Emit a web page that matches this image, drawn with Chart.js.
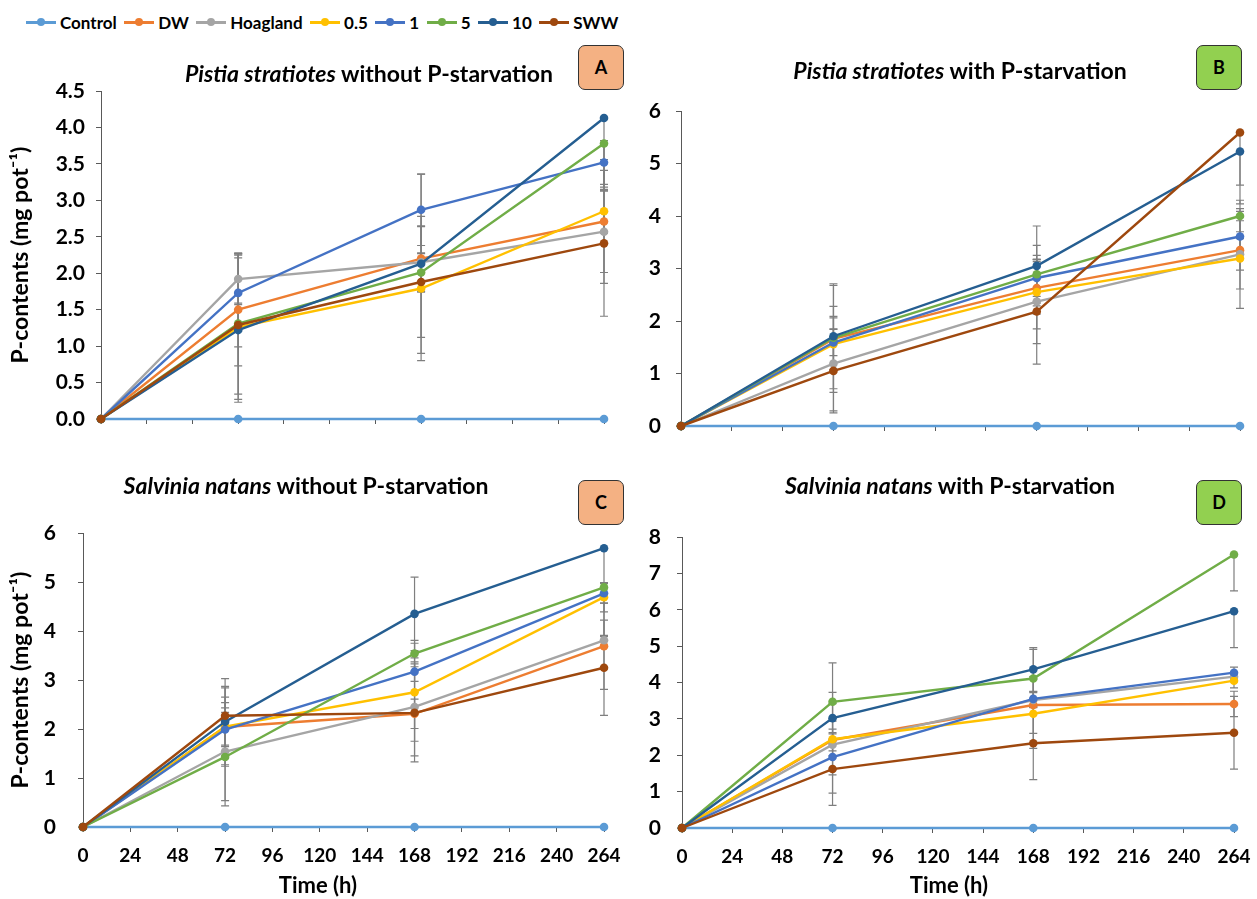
<!DOCTYPE html>
<html>
<head>
<meta charset="utf-8">
<script src="https://cdn.jsdelivr.net/npm/chart.js@4.4.1/dist/chart.umd.min.js"></script>
<style>
  body { margin: 0; background: #fff; font-family: Lato, "Open Sans", sans-serif; }
  #wrap { position: relative; width: 1257px; height: 899px; overflow: hidden; }
  canvas { position: absolute; }
  .ttl { position: absolute; font-weight: bold; font-size: 23px; color: #000; white-space: nowrap; transform: translateX(-50%); }
  .xt { position: absolute; font-weight: bold; font-size: 22px; color: #000; white-space: nowrap; transform: translateX(-50%); }
  .box { position: absolute; width: 44px; height: 43px; border: 1.5px solid #333; border-radius: 7px;
         font-weight: bold; font-size: 18px; text-align: center; line-height: 42px; color: #000; }
  #legend { position: absolute; left: 26px; top: 12px; display: flex; align-items: center;
            font-weight: bold; font-size: 17px; color: #000; }
  .item { display: flex; align-items: center; margin-right: 7.5px; }
  .sw { position: relative; width: 30px; height: 2.5px; margin-right: 4px; }
  .sw i { position: absolute; left: 11px; top: -3px; width: 8px; height: 8px; border-radius: 50%; }
</style>
</head>
<body>
<div id="wrap">
  <div id="legend"></div>

  <canvas id="chartA" width="640" height="411" style="left:0;top:40px"></canvas>
  <canvas id="chartB" width="617" height="418" style="left:640px;top:40px"></canvas>
  <canvas id="chartC" width="640" height="449" style="left:0;top:450px"></canvas>
  <canvas id="chartD" width="640" height="449" style="left:640px;top:450px"></canvas>

  <div class="ttl" style="left:369px;top:59px"><i>Pistia stratiotes</i> without P-starvation</div>
  <div class="ttl" style="left:960px;top:56px"><i>Pistia stratiotes</i> with P-starvation</div>
  <div class="ttl" style="left:306px;top:471px"><i>Salvinia natans</i> without P-starvation</div>
  <div class="ttl" style="left:950px;top:471px"><i>Salvinia natans</i> with P-starvation</div>

  <div class="xt" style="left:318px;top:871px">Time (h)</div>
  <div class="xt" style="left:949px;top:871px">Time (h)</div>

  <div class="box" style="left:578px;top:45px;background:#F4B183">A</div>
  <div class="box" style="left:1196px;top:45px;background:#92D050">B</div>
  <div class="box" style="left:578px;top:480px;background:#F4B183">C</div>
  <div class="box" style="left:1196px;top:480px;background:#92D050">D</div>
</div>

<script>
// sampling times (h)
const times = [0, 72, 168, 264];
const series = ['Control', 'DW', 'Hoagland', '0.5', '1', '5', '10', 'SWW'];
const colors = ['#5B9BD5', '#ED7D31', '#A5A5A5', '#FFC000', '#4472C4', '#70AD47', '#255E91', '#9E480E'];

// A - Pistia stratiotes without P-starvation
const valuesA = [
  [0, 0, 0, 0],
  [0, 1.50, 2.20, 2.71],
  [0, 1.92, 2.15, 2.57],
  [0, 1.26, 1.79, 2.85],
  [0, 1.73, 2.87, 3.52],
  [0, 1.31, 2.01, 3.78],
  [0, 1.22, 2.13, 4.13],
  [0, 1.29, 1.88, 2.41]
];
const errUpA = [
  [0, 0, 0, 0],
  [0, 0.77, 0.45, 0.85],
  [0, 0.35, 0.12, 0.56],
  [0, 0.99, 0.99, 0.30],
  [0, 0.52, 0.49, 0.30],
  [0, 0.97, 0.27, 0],
  [0, 0.99, 1.23, 0],
  [0, 0.30, 0.76, 1.00]
];
const errDownA = [
  [0, 0, 0, 0],
  [0, 0.77, 0.45, 0.85],
  [0, 0.35, 0.12, 0.56],
  [0, 0.99, 0.99, 0.30],
  [0, 0.52, 0.49, 0.30],
  [0, 0.97, 0.27, 0.60],
  [0, 0.99, 1.23, 1.00],
  [0, 0.30, 0.76, 1.00]
];

// B - Pistia stratiotes with P-starvation
const valuesB = [
  [0, 0, 0, 0],
  [0, 1.66, 2.63, 3.35],
  [0, 1.19, 2.37, 3.27],
  [0, 1.56, 2.55, 3.19],
  [0, 1.59, 2.82, 3.61],
  [0, 1.68, 2.89, 4.00],
  [0, 1.71, 3.05, 5.23],
  [0, 1.05, 2.18, 5.59]
];
const errUpB = [
  [0, 0, 0, 0],
  [0, 1.02, 0.50, 0.74],
  [0, 0.90, 0.80, 0.30],
  [0, 0.50, 0.70, 0.95],
  [0, 0.25, 0.35, 0.30],
  [0, 0.60, 0.55, 0.30],
  [0, 1.00, 0.76, 0],
  [0, 0.80, 1.00, 0]
];
const errDownB = [
  [0, 0, 0, 0],
  [0, 1.02, 0.50, 0.74],
  [0, 0.90, 0.80, 0.30],
  [0, 0.50, 0.70, 0.95],
  [0, 0.25, 0.35, 0.30],
  [0, 0.60, 0.55, 0.30],
  [0, 1.00, 0.76, 1.00],
  [0, 0.80, 1.00, 1.00]
];

// C - Salvinia natans without P-starvation
const valuesC = [
  [0, 0, 0, 0],
  [0, 2.04, 2.31, 3.69],
  [0, 1.54, 2.45, 3.81],
  [0, 2.05, 2.75, 4.69],
  [0, 1.99, 3.17, 4.77],
  [0, 1.43, 3.54, 4.89],
  [0, 2.15, 4.35, 5.69],
  [0, 2.27, 2.33, 3.25]
];
const errUpC = [
  [0, 0, 0, 0],
  [0, 0.80, 0.30, 0.88],
  [0, 1.00, 1.00, 0.10],
  [0, 0.60, 1.00, 0.30],
  [0, 0.35, 0.20, 0.20],
  [0, 1.00, 0.27, 0],
  [0, 0.88, 0.75, 0],
  [0, 0.60, 1.00, 0.97]
];
const errDownC = [
  [0, 0, 0, 0],
  [0, 0.80, 0.30, 0.88],
  [0, 1.00, 1.00, 0.10],
  [0, 0.60, 1.00, 0.30],
  [0, 0.35, 0.20, 0.20],
  [0, 1.00, 0.27, 1.00],
  [0, 0.88, 0.75, 1.00],
  [0, 0.60, 1.00, 0.97]
];

// D - Salvinia natans with P-starvation
const valuesD = [
  [0, 0, 0, 0],
  [0, 2.42, 3.38, 3.41],
  [0, 2.29, 3.52, 4.16],
  [0, 2.44, 3.14, 4.05],
  [0, 1.95, 3.55, 4.27],
  [0, 3.47, 4.11, 7.52],
  [0, 3.02, 4.36, 5.96],
  [0, 1.62, 2.33, 2.62]
];
const errUpD = [
  [0, 0, 0, 0],
  [0, 0.30, 0.78, 0.35],
  [0, 0.30, 0.20, 0.10],
  [0, 0.98, 0.95, 0.20],
  [0, 0.99, 0.20, 0.15],
  [0, 1.07, 0.80, 0],
  [0, 0.71, 0.60, 0],
  [0, 1.00, 1.00, 1.00]
];
const errDownD = [
  [0, 0, 0, 0],
  [0, 0.30, 0.78, 0.35],
  [0, 0.30, 0.20, 0.10],
  [0, 0.98, 0.95, 0.20],
  [0, 0.99, 0.20, 0.15],
  [0, 1.07, 0.80, 1.00],
  [0, 0.71, 0.60, 1.00],
  [0, 1.00, 1.00, 1.00]
];

// legend (shared by all four panels)
const legendEl = document.getElementById('legend');
series.forEach((name, i) => {
  const item = document.createElement('div');
  item.className = 'item';
  item.innerHTML = '<span class="sw" style="background:' + colors[i] + '"><i style="background:' + colors[i] + '"></i></span>' + name;
  legendEl.appendChild(item);
});

// vertical error bars with caps, drawn under the lines
const errorBars = {
  id: 'errorBars',
  beforeDatasetsDraw(chart) {
    const { ctx, chartArea, scales: { x, y } } = chart;
    ctx.save();
    ctx.beginPath();
    ctx.rect(chartArea.left - 10, chartArea.top, chartArea.right - chartArea.left + 20, chartArea.bottom - chartArea.top);
    ctx.clip();
    ctx.strokeStyle = '#7f7f7f';
    ctx.lineWidth = 1.2;
    chart.data.datasets.forEach(ds => {
      ds.data.forEach((p, i) => {
        const up = ds.errUp[i], down = ds.errDown[i];
        if (!up && !down) return;
        const px = x.getPixelForValue(p.x);
        const top = y.getPixelForValue(p.y + up);
        const bot = y.getPixelForValue(p.y - down);
        ctx.beginPath();
        ctx.moveTo(px, top); ctx.lineTo(px, bot);
        if (up) { ctx.moveTo(px - 4, top); ctx.lineTo(px + 4, top); }
        if (down) { ctx.moveTo(px - 4, bot); ctx.lineTo(px + 4, bot); }
        ctx.stroke();
      });
    });
    ctx.restore();
  }
};

const axisColor = '#595959';
const font = 'Lato, "Open Sans", sans-serif';

function makePanel(id, values, errUp, errDown, cfg) {
  const datasets = series.map((name, i) => ({
    label: name,
    data: times.map((t, j) => ({ x: t, y: values[i][j] })),
    errUp: errUp[i],
    errDown: errDown[i],
    borderColor: colors[i],
    backgroundColor: colors[i],
    borderWidth: 2.4,
    pointRadius: 4.3,
    pointHoverRadius: 4.3,
    pointBorderWidth: 0,
    tension: 0,
    clip: false,
    order: series.length - i
  }));

  new Chart(document.getElementById(id), {
    type: 'line',
    data: { datasets },
    plugins: [errorBars],
    options: {
      responsive: false,
      animation: false,
      devicePixelRatio: 1,
      layout: { padding: cfg.padding },
      plugins: { legend: { display: false }, tooltip: { enabled: false } },
      scales: {
        x: {
          type: 'linear', min: 0, max: 264,
          afterFit: s => { s.height = cfg.xHeight; },
          ticks: {
            display: cfg.showX, stepSize: 24, padding: 12, color: '#000',
            font: { family: font, size: 19, weight: 'bold' }
          },
          grid: { drawOnChartArea: false, drawTicks: true, tickLength: 5, color: axisColor },
          border: { color: axisColor, width: 1 }
        },
        y: {
          type: 'linear', min: 0, max: cfg.yMax,
          afterFit: s => { s.width = cfg.yWidth; },
          ticks: {
            stepSize: cfg.yStep, padding: cfg.tickPad, color: '#000',
            callback: v => v.toFixed(cfg.decimals),
            font: { family: font, size: 21, weight: 'bold' }
          },
          grid: { drawOnChartArea: false, drawTicks: true, tickLength: 5, color: axisColor },
          border: { color: axisColor, width: 1 },
          title: {
            display: cfg.yTitle, text: 'P-contents (mg pot\u207B\u00B9)', color: '#000',
            padding: { top: 7, bottom: 0 },
            font: { family: font, size: 23, weight: 'bold' }
          }
        }
      }
    }
  });
}

makePanel('chartA', valuesA, errUpA, errDownA, {
  yMax: 4.5, yStep: 0.5, decimals: 1, yTitle: true, showX: false, tickPad: 11,
  yWidth: 101, xHeight: 32, padding: { left: 0, right: 36, top: 51, bottom: 0 }
});
makePanel('chartB', valuesB, errUpB, errDownB, {
  yMax: 6, yStep: 1, decimals: 0, yTitle: false, showX: false, tickPad: 15,
  yWidth: 41, xHeight: 32, padding: { left: 0, right: 17, top: 71, bottom: 0 }
});
makePanel('chartC', valuesC, errUpC, errDownC, {
  yMax: 6, yStep: 1, decimals: 0, yTitle: true, showX: true, tickPad: 22,
  yWidth: 83, xHeight: 72, padding: { left: 0, right: 36, top: 83, bottom: 0 }
});
makePanel('chartD', valuesD, errUpD, errDownD, {
  yMax: 8, yStep: 1, decimals: 0, yTitle: false, showX: true, tickPad: 16,
  yWidth: 42, xHeight: 71, padding: { left: 0, right: 46, top: 87, bottom: 0 }
});
</script>
</body>
</html>
